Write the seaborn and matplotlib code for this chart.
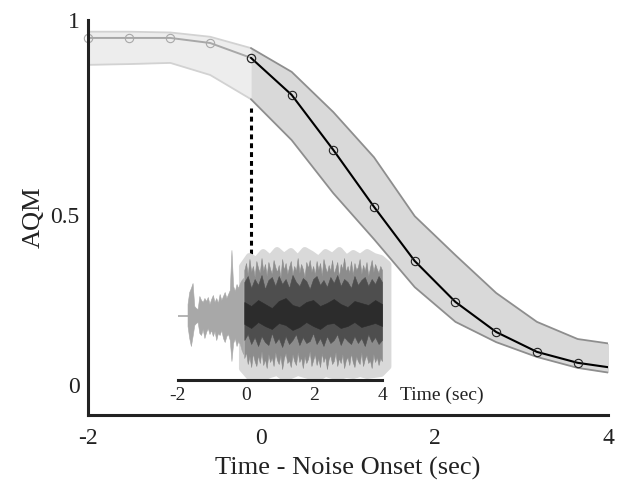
import numpy as np
import pandas as pd
import matplotlib
matplotlib.use("Agg")
import matplotlib.pyplot as plt
import seaborn as sns

# ---------------- data ----------------
time = [-2.00, -1.53, -1.05, -0.59, -0.12, 0.35, 0.83, 1.30, 1.77, 2.24, 2.71, 3.18, 3.65, 4.12]
aqm = [0.954, 0.954, 0.954, 0.941, 0.903, 0.808, 0.667, 0.521, 0.382, 0.277, 0.200, 0.149, 0.121, 0.106]
upper = [0.970, 0.970, 0.968, 0.957, 0.928, 0.867, 0.764, 0.648, 0.497, 0.397, 0.300, 0.226, 0.182, 0.167]
lower = [0.885, 0.887, 0.890, 0.859, 0.797, 0.692, 0.556, 0.438, 0.315, 0.226, 0.174, 0.136, 0.108, 0.092]
onset_index = 4
onset_x = -0.12
dash_top = 0.775
dash_bottom = 0.40

xticks_main = [-2, 0, 2, 4]
xticklabels_main = ["-2", "0", "2", "4"]
yticks_main = [0, 0.5, 1]
yticklabels_main = ["", "0.5", "1"]

# inset waveform (amplitudes in inset units)
lead_t = [-2.0, -1.72]
pre_up = [12, 24, 28, 33, 10, 8, 7, 20, 16, 14, 18, 15, 19, 12, 17, 21, 14, 18,
          13, 22, 16, 20, 24, 18, 22, 26, 66, 30, 25, 32, 28, 33, 36, 38]
pre_down = [10, 22, 30, 20, 9, 7, 6, 17, 19, 13, 22, 16, 12, 18, 14, 20, 15, 24,
            17, 19, 14, 22, 26, 20, 18, 24, 45, 27, 22, 30, 25, 28, 34, 38]
outer_up = [46, 53, 41, 57, 44, 50, 39, 55, 48, 43, 58, 45, 52, 40, 54, 47, 42, 56, 49, 44,
            51, 38, 57, 46, 53, 42, 49, 55, 41, 50, 45, 58, 43, 52, 47, 39, 54, 48, 56, 44,
            50, 41, 55, 46, 53, 40, 57, 49, 43, 51, 45, 56, 42, 48, 54, 39, 52, 47, 58, 44,
            50, 43, 55, 41, 53, 46, 49, 57, 42, 51, 45, 54, 40, 48, 56, 44, 52, 47, 43, 50, 46]
outer_down = [42, 36, 48, 40, 51, 37, 45, 50, 39, 47, 35, 49, 43, 52, 38, 46, 41, 50, 36, 44,
              48, 39, 53, 42, 37, 47, 44, 51, 38, 45, 49, 36, 46, 41, 52, 40, 47, 43, 35, 50,
              44, 38, 49, 42, 51, 37, 46, 40, 53, 43, 39, 48, 45, 36, 50, 42, 47, 38, 52, 44,
              41, 49, 37, 46, 51, 40, 45, 48, 36, 50, 43, 39, 47, 44, 52, 38, 46, 41, 49, 42, 45]
mid_up = [34, 40, 28, 37, 31, 41, 27, 36, 39, 30, 40, 32, 37, 28, 41, 34, 30, 38, 35, 27, 37,
          40, 31, 36, 29, 39, 33, 41, 30, 37, 34, 28, 40, 31, 36, 39, 30, 37, 32, 40, 34]
mid_down = [24, 18, 28, 21, 30, 20, 26, 29, 17, 27, 22, 31, 20, 28, 24, 18, 29, 21, 27, 25, 17,
            28, 22, 30, 20, 27, 24, 18, 29, 21, 25, 28, 20, 27, 22, 30, 18, 26, 21, 28, 24]
core_up = [14, 10, 16, 12, 8, 15, 18, 11, 9, 14, 16, 10, 13, 17, 12, 9, 15, 13, 11, 16, 12]
core_down = [8, 12, 6, 10, 13, 7, 9, 14, 11, 6, 10, 13, 8, 7, 12, 10, 6, 11, 9, 7, 10]
blob_top = [50, 60, 56, 64, 58, 66, 60, 65, 58, 66, 62, 57, 64, 60, 66, 58, 63, 59, 64, 60, 58, 52]
blob_bot = [-52, -60, -62, -61, -58, -56, -61, -59, -56, -58, -60, -61, -57, -59, -60, -58, -59,
            -57, -59, -58, -57, -50]
inset_ticks = [-2, 0, 2, 4]
inset_ticklabels = ["-2", "0", "2", "4"]

# ---------------- style ----------------
sns.set_theme(style="white")
plt.rcParams["font.family"] = ["Liberation Serif", "DejaVu Serif"]

fig = plt.figure(figsize=(6.17, 4.83), dpi=100)
W, H = 617.0, 483.0
ax = fig.add_axes([88 / W, 68 / H, 520 / W, 395 / H])
ax.set_xlim(-2, 4)
ax.set_ylim(-0.0128, 1.0)

df = pd.DataFrame({"time": time, "aqm": aqm, "upper": upper, "lower": lower})
pre = df.iloc[: onset_index + 1]
post = df.iloc[onset_index:]

# bands
ax.fill_between(pre["time"], pre["lower"], pre["upper"], color="#ededed", lw=0, zorder=1)
ax.plot(pre["time"], pre["upper"], color="#d2d2d2", lw=1.3, zorder=2)
ax.plot(pre["time"], pre["lower"], color="#d2d2d2", lw=1.3, zorder=2)
ax.fill_between(post["time"], post["lower"], post["upper"], color="#d9d9d9", lw=0, zorder=1)
ax.plot(post["time"], post["upper"], color="#8e8e8e", lw=1.3, zorder=2)
ax.plot(post["time"], post["lower"], color="#8e8e8e", lw=1.3, zorder=2)

# mean lines
sns.lineplot(data=pre, x="time", y="aqm", ax=ax, color="#a8a8a8", lw=1.4,
             marker="o", markersize=6, markerfacecolor="none",
             markeredgecolor="#a8a8a8", markeredgewidth=0.8, errorbar=None, zorder=3,
             clip_on=False)
sns.lineplot(data=post, x="time", y="aqm", ax=ax, color="black", lw=1.5,
             marker="o", markersize=6, markerfacecolor="none",
             markeredgecolor="#222222", markeredgewidth=0.8, errorbar=None, zorder=4)

# onset dashed line
ax.plot([onset_x, onset_x], [dash_bottom, dash_top], color="black", lw=2.2,
        linestyle=(0, (1.6, 1.3)), zorder=5)

# axes styling
for s in ["top", "right"]:
    ax.spines[s].set_visible(False)
for s in ["left", "bottom"]:
    ax.spines[s].set_linewidth(2.2)
    ax.spines[s].set_color("#222222")
    ax.spines[s].set_zorder(6)
ax.set_xticks(xticks_main)
ax.set_xticklabels(xticklabels_main)
ax.set_yticks(yticks_main)
ax.set_yticklabels(yticklabels_main)
ax.tick_params(axis="both", direction="in", length=4, width=2.2, color="#222222",
               labelsize=17, labelcolor="#222222")
ax.tick_params(axis="x", pad=9)
ax.tick_params(axis="y", pad=6)
ax.annotate("0", xy=(0, 0), xycoords=("axes fraction", "data"), xytext=(-8, 23),
            textcoords="offset pixels", ha="right", va="center", fontsize=17, color="#222222")
ax.set_xlabel("Time - Noise Onset (sec)", fontsize=19, color="#222222", labelpad=6)
ax.set_ylabel("AQM", fontsize=19, color="#222222", labelpad=4)
ax.set_facecolor("white")

# ---------------- inset waveform ----------------
ax_in = fig.add_axes([178 / W, (H - 380) / H, 204 / W, 134 / H])
ax_in.set_xlim(-2, 4)
ax_in.set_ylim(-64, 70)
ax_in.patch.set_alpha(0)

blob_t = np.linspace(-0.12, 4.16, len(blob_top))
ax_in.fill_between(blob_t, blob_bot, blob_top, facecolor="#d9d9d9", edgecolor="#d9d9d9",
                   lw=5, joinstyle="round", clip_on=False, zorder=1)

pre_t = np.linspace(-1.72, -0.08, len(pre_up))
ax_in.plot(lead_t, [0, 0], color="#a8a8a8", lw=1.2, zorder=2)
ax_in.fill_between(pre_t, -np.array(pre_down), pre_up, color="#a8a8a8", lw=0.4, zorder=2)

post_t = np.linspace(-0.05, 4.0, len(outer_up))
ax_in.fill_between(post_t, -np.array(outer_down), outer_up, color="#8c8c8c", lw=0.4, zorder=3)
mid_t = np.linspace(-0.05, 4.0, len(mid_up))
ax_in.fill_between(mid_t, -np.array(mid_down), mid_up, color="#4e4e4e", lw=0.4, zorder=4)
core_t = np.linspace(-0.05, 4.0, len(core_up))
ax_in.fill_between(core_t, -np.array(core_down), core_up, color="#2c2c2c", lw=0.4, zorder=5)

for s in ["top", "right", "left"]:
    ax_in.spines[s].set_visible(False)
ax_in.spines["bottom"].set_linewidth(2.2)
ax_in.spines["bottom"].set_color("#222222")
ax_in.set_yticks([])
ax_in.set_xticks(inset_ticks)
ax_in.set_xticklabels(inset_ticklabels)
ax_in.tick_params(axis="x", direction="in", length=4, width=2.2, color="#222222",
                  labelsize=14, labelcolor="#222222", pad=5)
ax_in.annotate("Time (sec)", xy=(1, 0), xycoords="axes fraction", xytext=(18, -15),
               textcoords="offset pixels", ha="left", va="center", fontsize=14, color="#222222")

fig.savefig("out.png", dpi=100, facecolor="white")
